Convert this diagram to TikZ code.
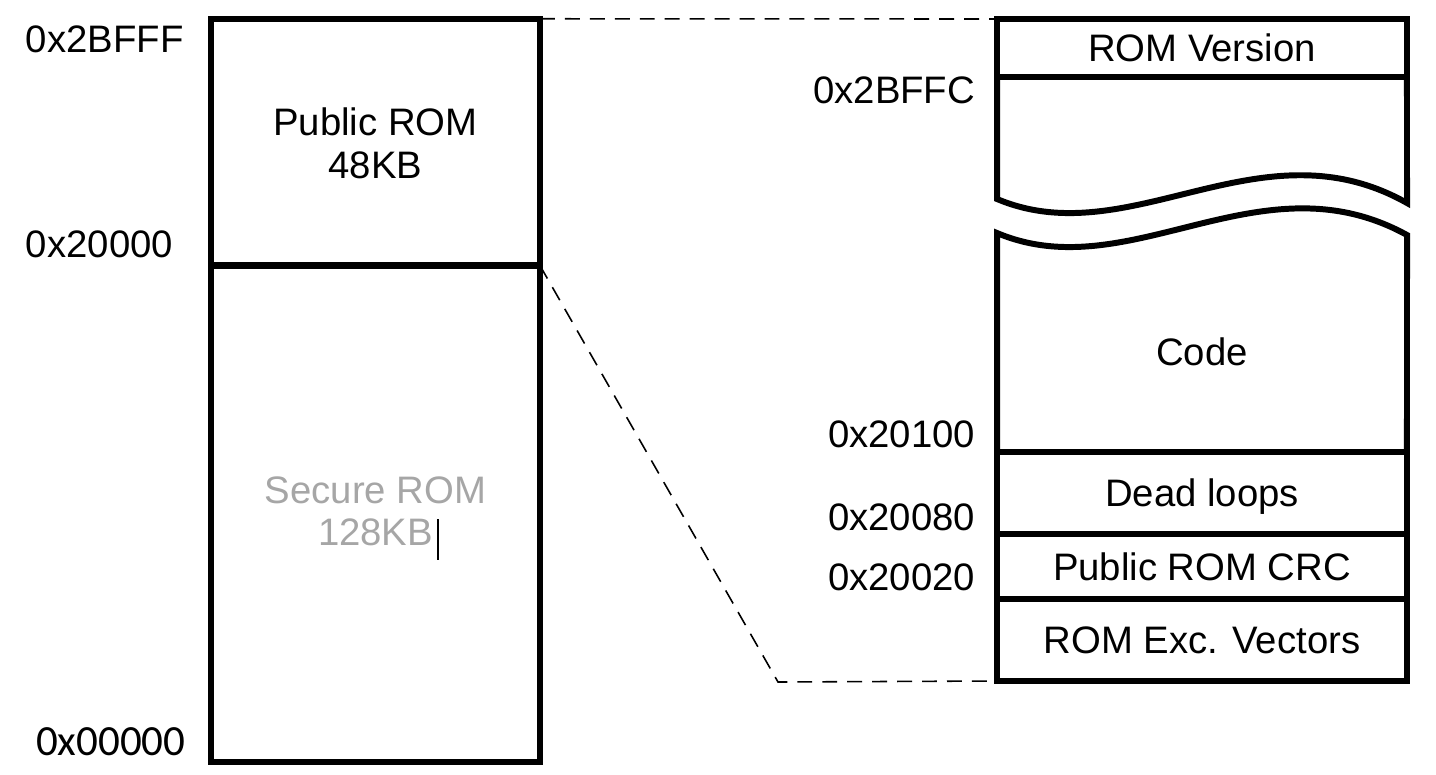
\documentclass[tikz,border=0pt]{standalone}
\usepackage{fontspec}
\setmainfont{Liberation Sans}
\newfontfamily\calfont{Carlito}
\definecolor{secgray}{HTML}{A6A6A6}
\begin{document}
\begin{tikzpicture}[x=0.02cm, y=-0.02cm, inner sep=0pt, outer sep=0pt,
    font=\fontsize{21.8}{26}\selectfont,
    box/.style={draw, line width=3.4pt},
    row/.style={box, minimum width=8.2cm, text height=15.6pt, text depth=0pt},
    addr/.style={anchor=base east},
    zoomline/.style={line width=0.9pt, dash pattern=on 8.5pt off 5.7pt}]
  \useasboundingbox (0,0) rectangle (1436,774);

  % left: whole rom
  \node[box, minimum width=6.58cm, minimum height=4.93cm] (pub) at (375.5,142) {};
  \node[box, minimum width=6.58cm, minimum height=9.94cm] (sec) at (375.5,514) {};
  \node[anchor=base] (pubname) at (375.5,135) {Public ROM};
  \node[anchor=base] (pubsize) at (375.5,178) {48KB};
  \node[anchor=base, text=secgray] (secname) at (375.5,503) {Secure ROM};
  \node[anchor=base, text=secgray] (secsize) at (375.5,545) {128KB};
  \draw[line width=1.1pt] (438,519) -- (438,560);

  \node[anchor=base west] (a2bfff) at (26,52) {0x2BFFF};
  \node[anchor=base west] (a20000) at (26,257) {0x20000};
  \node[anchor=base west, font=\fontsize{24.5}{28}\calfont] (a00000) at (36,755) {0x00000};

  % right: public rom detail
  \node[row, minimum height=1.16cm] (romver) at (1202,48) {ROM Version};
  \node[row, minimum height=1.64cm] (dead) at (1202,493) {Dead loops};
  \node[row, minimum height=1.3cm] (crc) at (1202,566.5) {Public ROM CRC};
  \node[row, minimum height=1.64cm] (vec) at (1202,640) {ROM Exc. Vectors};
  \node[text height=15.6pt, text depth=0pt] (code) at (1202,352) {Code};

  \draw[line width=3.4pt] (romver.south west) -- (997,199)
    .. controls (1130,255) and (1260,120) .. (1407,203) -- (romver.south east);
  \draw[line width=3.4pt] (dead.north west) -- (997,233)
    .. controls (1130,289) and (1260,154) .. (1407,235) -- (dead.north east);

  \node[addr] (a2bffc) at (975,103) {0x2BFFC};
  \node[addr] (a20100) at (975,447) {0x20100};
  \node[addr] (a20080) at (975,530) {0x20080};
  \node[addr] (a20020) at (975,590) {0x20020};

  \coordinate (bend) at (778,682);
  \draw[zoomline] (pub.north east) -- (romver.north west);
  \draw[zoomline] (sec.north east) -- (bend) -- (vec.south west);
\end{tikzpicture}
\end{document}
